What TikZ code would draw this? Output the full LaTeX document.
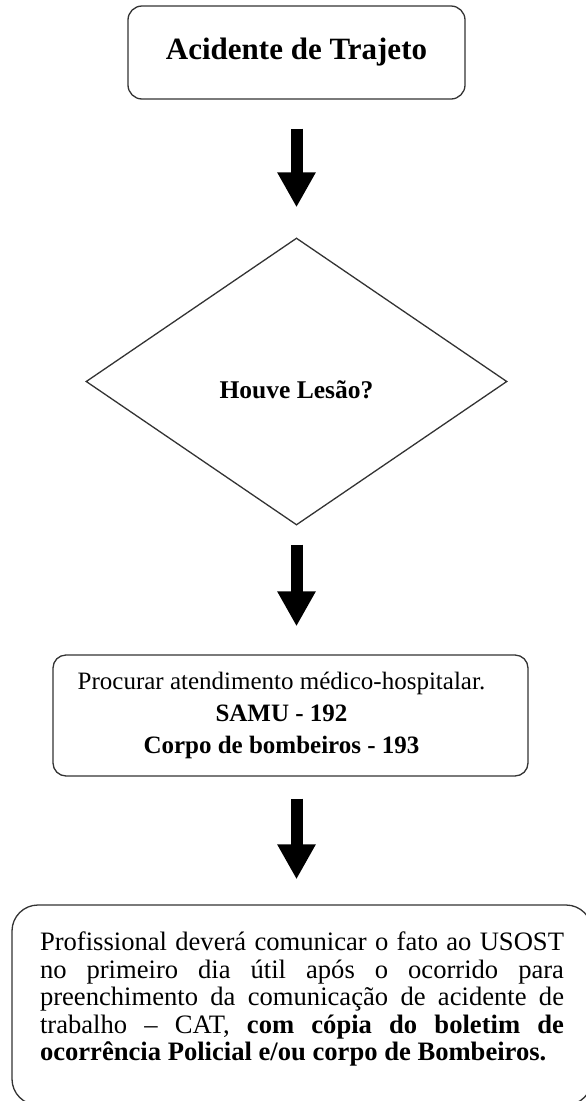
\documentclass[tikz,border=0pt]{standalone}
\usepackage{fontspec}
\setmainfont{Liberation Serif}
\usetikzlibrary{shapes.geometric,arrows.meta}

\tikzset{
  frame/.style={draw=black!80, line width=1.3pt, fill=white},
  roundbox/.style={frame, rectangle, rounded corners=#1, inner sep=0pt, align=center},
  decision/.style={frame, diamond, inner sep=0pt},
  bigarrow/.style={line width=12pt, black,
    -{Triangle[width=36pt,length=35pt]}}
}

\begin{document}
\begin{tikzpicture}[x=1pt,y=-1pt]
  \useasboundingbox (0,0) rectangle (586,1101);

  % start of the flow
  \node[roundbox=14pt, minimum width=337pt, minimum height=93pt]
    (start) at (296.5,52.5)
    {\fontsize{31}{34}\selectfont\bfseries Acidente de Trajeto};

  % decision
  \node[decision, minimum width=421pt, minimum height=287pt]
    (injury) at (296.5,381.5)
    {\raisebox{-16.5pt}[0pt][0pt]{\fontsize{25.5}{28}\selectfont\bfseries Houve Lesão?}};

  % medical care
  \node[roundbox=13pt, minimum width=475pt, minimum height=121pt]
    (care) at (290.5,715.5)
    {\parbox[c]{440pt}{\centering\fontsize{25}{32}\selectfont
       Procurar atendimento médico-hospitalar.\\
       \textbf{SAMU - 192}\\
       \textbf{Corpo de bombeiros - 193}}\hspace{18pt}};

  % notification
  \node[roundbox=26pt, minimum width=580pt, minimum height=200pt]
    (notify) at (302,1005)
    {\begin{minipage}{524pt}
       \fontsize{26.6}{27.5}\selectfont\hyphenpenalty=10000\exhyphenpenalty=10000
       \parindent=0pt
       Profissional deverá comunicar o fato ao USOST\linebreak
       no primeiro dia útil após o ocorrido para\linebreak
       preenchimento da comunicação de acidente de\linebreak
       trabalho -- CAT, \textbf{com cópia do boletim de}\linebreak
       \textbf{ocorrência Policial e/ou corpo de Bombeiros.}\par
       \vspace{12pt}
     \end{minipage}};

  % connectors
  \draw[bigarrow, shorten <=29pt, shorten >=30pt]
    (start.south) -- (injury.north);
  \draw[bigarrow, shorten <=19pt, shorten >=28pt]
    (injury.south) -- (injury.south |- care.north);
  \draw[bigarrow, shorten <=22pt, shorten >=25pt]
    (injury.south |- care.south) -- (injury.south |- notify.north);
\end{tikzpicture}
\end{document}
